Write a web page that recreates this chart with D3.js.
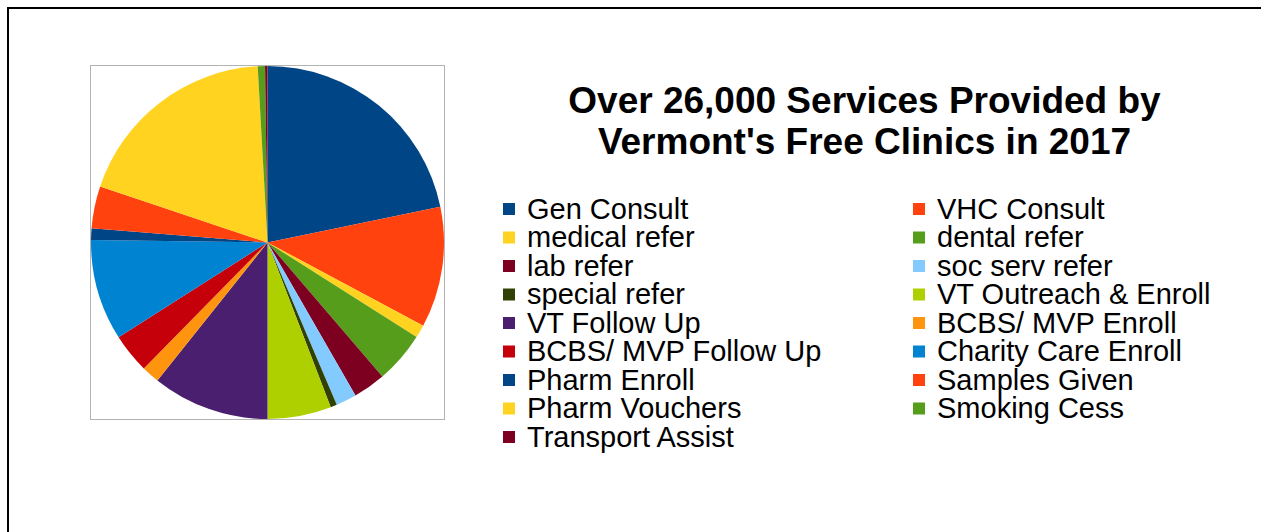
<!DOCTYPE html>
<html>
<head>
<meta charset="utf-8">
<script src="https://cdn.jsdelivr.net/npm/d3@7"></script>
<style>
  body { margin: 0; background: #fff; }
  text { font-family: "Liberation Sans", Arial, sans-serif; }
</style>
</head>
<body>
<div id="my_pie"></div>
<script>
// data (slice order = clockwise from 12 o'clock)
var categories = ["Gen Consult", "VHC Consult", "medical refer", "dental refer", "lab refer",
  "soc serv refer", "special refer", "VT Outreach & Enroll", "VT Follow Up", "BCBS/ MVP Enroll",
  "BCBS/ MVP Follow Up", "Charity Care Enroll", "Pharm Enroll", "Samples Given",
  "Pharm Vouchers", "Smoking Cess", "Transport Assist"]
var services = [5720, 2908, 314, 1242, 782, 497, 153, 1534, 2820, 431, 950, 2433, 278, 1015, 4990, 175, 58]
var palette = ["#004586", "#ff420e", "#ffd320", "#579d1c", "#7e0021", "#83caff", "#314004",
  "#aecf00", "#4b1f6f", "#ff950e", "#c5000b", "#0084d1"]
var titleLines = ["Over 26,000 Services Provided by", "Vermont's Free Clinics in 2017"]

var width = 1261, height = 532

var svg = d3.select("#my_pie")
  .append("svg")
    .attr("width", width)
    .attr("height", height)

// chart border
svg.append("rect")
  .attr("x", 8)
  .attr("y", 8)
  .attr("width", width)
  .attr("height", height)
  .attr("fill", "#fff")
  .attr("stroke", "#000")
  .attr("stroke-width", 2)

// plot area + pie
var radius = 177.5
var cx = 267.5, cy = 242.5

svg.append("rect")
  .attr("x", cx - radius + 0.5)
  .attr("y", cy - radius + 0.5)
  .attr("width", radius * 2 - 1)
  .attr("height", radius * 2 - 1)
  .attr("fill", "#fff")
  .attr("stroke", "#b3b3b3")
  .attr("stroke-width", 1)

var color = d3.scaleOrdinal()
  .domain(categories)
  .range(palette)

var pie = d3.pie()
  .sort(null)
  .value(function(d, i) { return services[i] })

var arc = d3.arc()
  .innerRadius(0)
  .outerRadius(radius - 1)

svg.append("g")
  .attr("transform", "translate(" + cx + "," + cy + ")")
  .selectAll("path")
  .data(pie(categories))
  .enter()
  .append("path")
    .attr("d", arc)
    .attr("fill", function(d) { return color(d.data) })

// title
svg.append("g")
  .selectAll("text")
  .data(titleLines)
  .enter()
  .append("text")
    .attr("x", 864.5)
    .attr("y", function(d, i) { return 113 + i * 41 })
    .attr("text-anchor", "middle")
    .attr("font-size", 37)
    .attr("font-weight", "bold")
    .attr("fill", "#000")
    .text(function(d) { return d })

// legend, two columns filled row by row
var legend = svg.append("g")
  .selectAll("g")
  .data(categories)
  .enter()
  .append("g")
    .attr("transform", function(d, i) {
      return "translate(" + (i % 2 == 0 ? 503 : 913) + "," + (209 + Math.floor(i / 2) * 28.5) + ")"
    })

legend.append("rect")
  .attr("x", 0)
  .attr("y", -6)
  .attr("width", 12)
  .attr("height", 12)
  .attr("fill", function(d) { return color(d) })

legend.append("text")
  .attr("x", 24)
  .attr("y", 9.8)
  .attr("font-size", 29)
  .attr("fill", "#000")
  .text(function(d) { return d })
</script>
</body>
</html>
